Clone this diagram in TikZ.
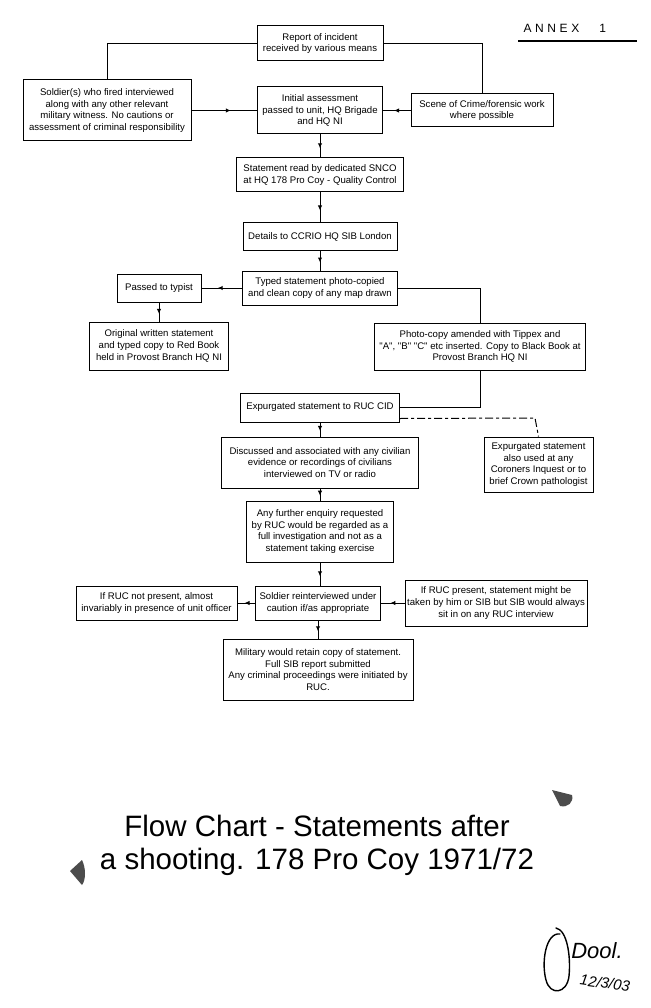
\documentclass[tikz,border=0pt]{standalone}
\usepackage{fontspec}
\setmainfont{Liberation Sans}
\usetikzlibrary{arrows.meta,decorations.markings,calc}
\begin{document}
\begin{tikzpicture}[x=1pt,y=-1pt,
  box/.style={draw,line width=1pt,align=center,inner sep=0pt,font=\fontsize{9.6}{11.6}\selectfont},
  sz/.style 2 args={minimum width=#1pt,minimum height=#2pt},
  conn/.style={line width=1pt},
  midarrow/.style={conn,postaction={decorate},decoration={markings,mark=at position 0.6 with {\arrow{Latex[length=5pt,width=4.5pt]}}}},
  dashconn/.style={line width=1pt,dash pattern=on 8pt off 3pt on 3pt off 3pt},
  titletext/.style={font=\fontsize{29.5}{33}\selectfont,align=center},
  hand/.style={line width=1.4pt,line cap=round,line join=round}]
\useasboundingbox (0,0) rectangle (650,1008);

% annex heading
\node[font=\fontsize{12}{14}\selectfont,anchor=base west] (annex) at (520,33) {\addfontfeature{LetterSpace=30}ANNEX\hspace{20pt}1};
\coordinate (ulA) at (518,41);
\coordinate (ulB) at (637,41);
\draw[line width=1.1pt] (ulA) -- (ulB);

% boxes
\node[box,sz={126}{35}] (report) at (320,43.5) {Report of incident\\received by various means};
\node[box,sz={168}{61}] (soldier) at (107,110.5) {Soldier(s) who fired interviewed\\along with any other relevant\\military witness. No cautions or\\assessment of criminal responsibility};
\node[box,sz={125}{47}] (initial) at (320,110.5) {Initial assessment\\passed to unit, HQ Brigade\\and HQ NI};
\node[box,sz={142}{33}] (scene) at (482,110.5) {Scene of Crime/forensic work\\where possible};
\node[box,sz={167}{34}] (statement) at (320,175) {Statement read by dedicated SNCO\\at HQ 178 Pro Coy - Quality Control};
\node[box,sz={154}{27}] (details) at (320,236.5) {Details to CCRIO HQ SIB London};
\node[box,sz={155}{34}] (typed) at (320,288) {Typed statement photo-copied\\and clean copy of any map drawn};
\node[box,sz={84}{28}] (typist) at (159,288) {Passed to typist};
\node[box,sz={139}{48}] (original) at (159,346) {Original written statement\\and typed copy to Red Book\\held in Provost Branch HQ NI};
\node[box,sz={211}{47}] (photo) at (480,346.5) {Photo-copy amended with Tippex and\\\textquotedbl A\textquotedbl, \textquotedbl B\textquotedbl\ \textquotedbl C\textquotedbl\ etc inserted. Copy to Black Book at\\Provost Branch HQ NI};
\node[box,sz={159}{29}] (ruc) at (320,407.5) {Expurgated statement to RUC CID};
\node[box,sz={109}{55}] (also) at (538.5,464.5) {Expurgated statement\\also used at any\\Coroners Inquest or to\\brief Crown pathologist};
\node[box,sz={197}{51}] (discussed) at (320,462.5) {Discussed and associated with any civilian\\evidence or recordings of civilians\\interviewed on TV or radio};
\node[box,sz={147}{61}] (further) at (320,531.5) {Any further enquiry requested\\by RUC would be regarded as a\\full investigation and not as a\\statement taking exercise};
\node[box,sz={161}{34}] (notpresent) at (156.5,603) {If RUC not present, almost\\invariably in presence of unit officer};
\node[box,sz={125}{34}] (reint) at (318,603) {Soldier reinterviewed under\\caution if/as appropriate};
\node[box,sz={182}{46}] (present) at (496,603) {If RUC present, statement might be\\taken by him or SIB but SIB would always\\sit in on any RUC interview};
\node[box,sz={190}{61}] (military) at (318,669.5) {Military would retain copy of statement.\\Full SIB report submitted\\Any criminal proceedings were initiated by\\RUC.};

% connectors
\draw[conn] (report.west) -| (soldier.north);
\draw[conn] (report.east) -| (scene.north);
\draw[midarrow] (soldier.east) -- (initial.west);
\draw[midarrow] (scene.west) -- (initial.east);
\draw[midarrow] (initial.south) -- (statement.north);
\draw[midarrow] (statement.south) -- (details.north);
\draw[midarrow] (details.south) -- (typed.north);
\draw[midarrow] (typed.west) -- (typist.east);
\draw[midarrow] (typist.south) -- (original.north);
\draw[conn] (typed.east) -| (photo.north);
\draw[conn] (photo.south) |- (ruc.east);
\coordinate (dk) at (535,418);
\draw[dashconn] ([yshift=4pt]ruc.south east) -- (dk) -- (also.north);
\draw[midarrow] (ruc.south) -- (discussed.north);
\draw[midarrow] (discussed.south) -- (further.north);
\draw[midarrow] (further.south) -- (further.south |- reint.north);
\draw[midarrow] (reint.west) -- (notpresent.east);
\draw[midarrow] (present.west) -- (reint.east);
\draw[midarrow] (reint.south) -- (military.north);

% title
\node[titletext] (title) at (317,845) {Flow Chart - Statements after\\a shooting. 178 Pro Coy 1971/72};

% scan smudges
\fill[black!70] (552,790) -- (572,795) .. controls (574,802) and (568,808) .. (560,806) -- cycle;
\fill[black!70] (70,871) -- (82,860) .. controls (86,868) and (86,880) .. (82,885) -- cycle;

% signature and date
\draw[hand] (560,934) .. controls (546,932) and (541,962) .. (546,980) .. controls (550,996) and (567,994) .. (569,976) .. controls (571,956) and (567,930) .. (556,928);
\node[font=\fontsize{22}{24}\selectfont\itshape] (sign) at (597,951) {Dool.};
\node[font=\fontsize{15}{17}\selectfont\itshape,rotate=-8] (date) at (605,983) {12/3/03};
\end{tikzpicture}
\end{document}
